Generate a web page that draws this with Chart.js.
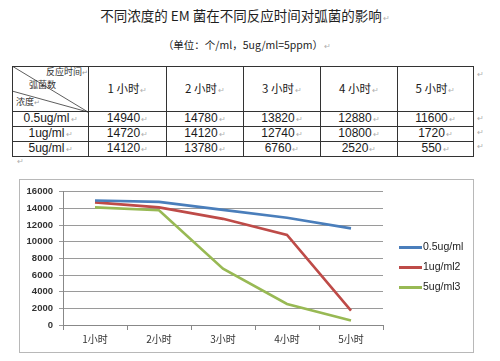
<!DOCTYPE html>
<html><head><meta charset="utf-8">
<script src="https://cdn.jsdelivr.net/npm/chart.js@4.4.0/dist/chart.umd.min.js"></script>
<style>
html,body{margin:0;padding:0;background:#fff;}
body{width:500px;height:361px;position:relative;overflow:hidden;font-family:"Liberation Sans","Noto Sans CJK SC",sans-serif;color:#222;}
.rm{font-size:8px;color:#b0b0b0;font-style:normal;margin-left:1px;}
#title{position:absolute;left:0;width:490px;top:6px;text-align:center;font-family:"Noto Sans CJK SC",sans-serif;font-size:13.5px;line-height:18px;color:#1e1e1e;}
#sub{position:absolute;left:0;width:494px;top:38px;text-align:center;font-family:"Noto Sans CJK SC",sans-serif;font-size:10.5px;line-height:14px;color:#222;}
#tbl{position:absolute;left:12px;top:66px;border-collapse:collapse;table-layout:fixed;}
#tbl td{border:1px solid #333;padding:0;text-align:center;font-size:12px;line-height:13px;color:#1a1a1a;white-space:nowrap;overflow:hidden;}
#tbl tr.h td{height:44px;font-family:"Noto Sans CJK SC",sans-serif;font-size:11.5px;}
#tbl tr.d td{height:13px;}
#diag{position:absolute;left:12px;top:66px;}
.dl{position:absolute;font-family:"Noto Sans CJK SC",sans-serif;font-size:9px;line-height:10px;color:#333;}
.rowmark{position:absolute;left:477px;font-size:8px;color:#b0b0b0;}
#box{position:absolute;left:19px;top:179px;width:453px;height:172px;border:1px solid #b8b8b8;}
#cv{position:absolute;left:20px;top:180px;}
#legend{position:absolute;left:399px;top:238px;font-size:10.5px;color:#222;}
.li{position:relative;height:20px;}
.li span.sw{position:absolute;left:0;top:8px;width:23px;height:2.5px;}
.li span.tx{position:absolute;left:24px;top:2px;line-height:13px;}
</style></head>
<body>
<div id="title">不同浓度的 EM 菌在不同反应时间对弧菌的影响<i class="rm">↵</i></div>
<div id="sub">（单位：个/ml，5ug/ml=5ppm）<i class="rm">↵</i></div>
<table id="tbl"></table>
<svg id="diag" width="78" height="48"><line x1="0" y1="0" x2="76" y2="46" stroke="#333" stroke-width="0.8"/><line x1="0" y1="25" x2="76" y2="46" stroke="#333" stroke-width="0.8"/></svg>
<div class="dl" style="left:46px;top:67px;">反应时间<span style="font-size:7px;color:#999">↵</span></div>
<div class="dl" style="left:29px;top:80px;">弧菌数</div>
<div class="dl" style="left:16px;top:97px;">浓度<span style="font-size:7px;color:#999">↵</span></div>
<div class="rowmark" style="top:70px">↵</div>
<div class="rowmark" style="top:114px">↵</div>
<div class="rowmark" style="top:128px">↵</div>
<div class="rowmark" style="top:142px">↵</div>
<div class="rowmark" style="left:17px;top:157px">↵</div>
<div id="box"></div>
<canvas id="cv" width="453" height="172" style="width:453px;height:172px"></canvas>
<div id="legend"></div>
<script>
const categories = ['1小时','2小时','3小时','4小时','5小时'];
const tableHeaders = ['1 小时','2 小时','3 小时','4 小时','5 小时'];
const seriesNames = ['0.5ug/ml','1ug/ml2','5ug/ml3'];
const rowLabels = ['0.5ug/ml','1ug/ml','5ug/ml'];
const s05 = [14940,14780,13820,12880,11600];
const s1 = [14720,14120,12740,10800,1720];
const s5 = [14120,13780,6760,2520,550];
const yMin = 0, yMax = 16000, yStep = 2000;
const colors = ['#4A7EBB','#BE4B48','#98B954'];
const seriesData = [s05, s1, s5];

// table
const colW = [76,78,77,77,77,76];
const tbl = document.getElementById('tbl');
let cg = '<colgroup>' + colW.map(w=>'<col style="width:'+w+'px">').join('') + '</colgroup>';
let html = cg + '<tr class="h"><td></td>' + tableHeaders.map(h=>'<td>'+h+'<i class="rm">↵</i></td>').join('') + '</tr>';
rowLabels.forEach((r,i)=>{
  html += '<tr class="d"><td>'+r+'<i class="rm">↵</i></td>' + seriesData[i].map(v=>'<td>'+v+'<i class="rm">↵</i></td>').join('') + '</tr>';
});
tbl.innerHTML = html;

// legend
const lg = document.getElementById('legend');
lg.innerHTML = seriesNames.map((n,i)=>'<div class="li"><span class="sw" style="background:'+colors[i]+'"></span><span class="tx">'+n+'</span></div>').join('');

new Chart(document.getElementById('cv'), {
  type: 'line',
  data: {
    labels: categories,
    datasets: seriesNames.map((n,i)=>({label:n,data:seriesData[i],borderColor:colors[i],backgroundColor:colors[i],borderWidth:2.6,pointRadius:0,tension:0,fill:false}))
  },
  options: {
    responsive:false, animation:false,
    layout:{padding:{left:0,top:11,right:90,bottom:0}},
    plugins:{legend:{display:false},tooltip:{enabled:false}},
    scales:{
      x:{
        offset:true,
        grid:{display:true,offset:true,drawOnChartArea:false,drawTicks:true,tickLength:5,color:'#888'},
        border:{display:true,color:'#888',width:1},
        ticks:{padding:3,color:'#333',font:{family:'"Noto Sans CJK SC", sans-serif',size:10},maxRotation:0},
        afterFit:s=>{s.height=27;}
      },
      y:{
        min:yMin,max:yMax,
        grid:{color:'#9a9a9a',tickLength:4,drawTicks:true},
        border:{display:true,color:'#888',width:1},
        ticks:{stepSize:yStep,padding:6,color:'#333',font:{family:'"Liberation Sans", sans-serif',size:9.5,weight:'bold'},callback:v=>String(v)},
        afterFit:s=>{s.width=43;}
      }
    }
  }
});
</script>
</body></html>
